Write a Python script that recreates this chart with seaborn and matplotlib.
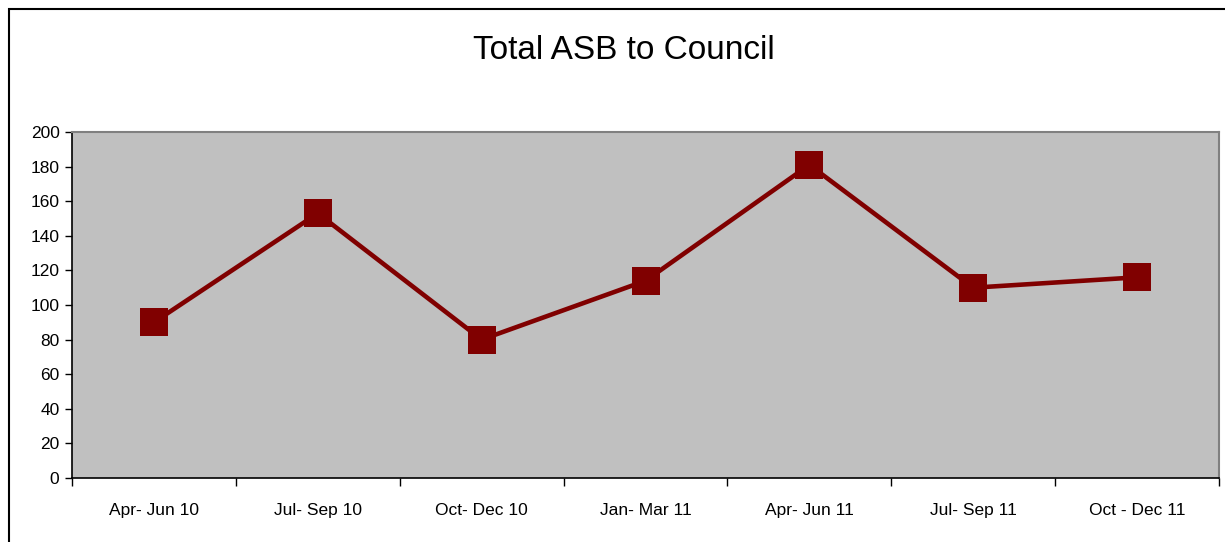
import pandas as pd
import seaborn as sns
import matplotlib.pyplot as plt
from matplotlib.patches import Rectangle
from matplotlib.ticker import FixedLocator, NullFormatter

quarters = ['Apr- Jun 10', 'Jul- Sep 10', 'Oct- Dec 10', 'Jan- Mar 11',
            'Apr- Jun 11', 'Jul- Sep 11', 'Oct - Dec 11']
asb_total = [90, 153, 80, 114, 181, 110, 116]

df = pd.DataFrame({'quarter': quarters, 'total': asb_total})

sns.set_style('white')
plt.rcParams['font.family'] = ['Liberation Sans', 'DejaVu Sans']
plt.rcParams['text.color'] = 'black'
plt.rcParams['xtick.color'] = 'black'
plt.rcParams['ytick.color'] = 'black'

fig = plt.figure(figsize=(12.25, 5.42), dpi=100)
ax = fig.add_axes([72/1225, 1-478/542, (1219-72)/1225, (478-132)/542])
ax.set_facecolor('#C0C0C0')

sns.lineplot(data=df, x='quarter', y='total', ax=ax, color='#800000',
             linewidth=3.3, marker='s', markersize=19.5, markeredgewidth=0,
             sort=False)

ax.set_xlim(-0.5, len(quarters) - 0.5)
ax.set_ylim(0, 200)
ax.set_yticks(range(0, 201, 20))
ax.set(xlabel=None, ylabel=None)

# category labels at centres, tick marks at boundaries
ax.xaxis.set_major_locator(FixedLocator([i - 0.5 for i in range(len(quarters) + 1)]))
ax.xaxis.set_major_formatter(NullFormatter())
ax.xaxis.set_minor_locator(FixedLocator(range(len(quarters))))
ax.set_xticklabels(quarters, minor=True)
ax.tick_params(axis='x', which='major', length=6, width=1, color='black', direction='out', bottom=True)
ax.tick_params(axis='x', which='minor', length=0, pad=18, labelsize=12.5, labelcolor='black', bottom=True)
ax.tick_params(axis='y', length=5, width=1, color='black', direction='out', pad=4, labelsize=12.5,
               labelcolor='black', left=True)

for side in ['left', 'bottom']:
    ax.spines[side].set_color('black')
    ax.spines[side].set_linewidth(1.2)
for side in ['top', 'right']:
    ax.spines[side].set_color('#808080')
    ax.spines[side].set_linewidth(1.5)

fig.text(624/1225, 1-51/542, 'Total ASB to Council', ha='center', va='center',
         fontsize=24, color='black')

# outer chart frame (cropped at right and bottom)
fig.patches.append(Rectangle((9/1225, -0.1), 1.2, 1.1 - 9/542, transform=fig.transFigure,
                             fill=False, edgecolor='black', linewidth=1.5))

plt.savefig('out.png', dpi=100)
